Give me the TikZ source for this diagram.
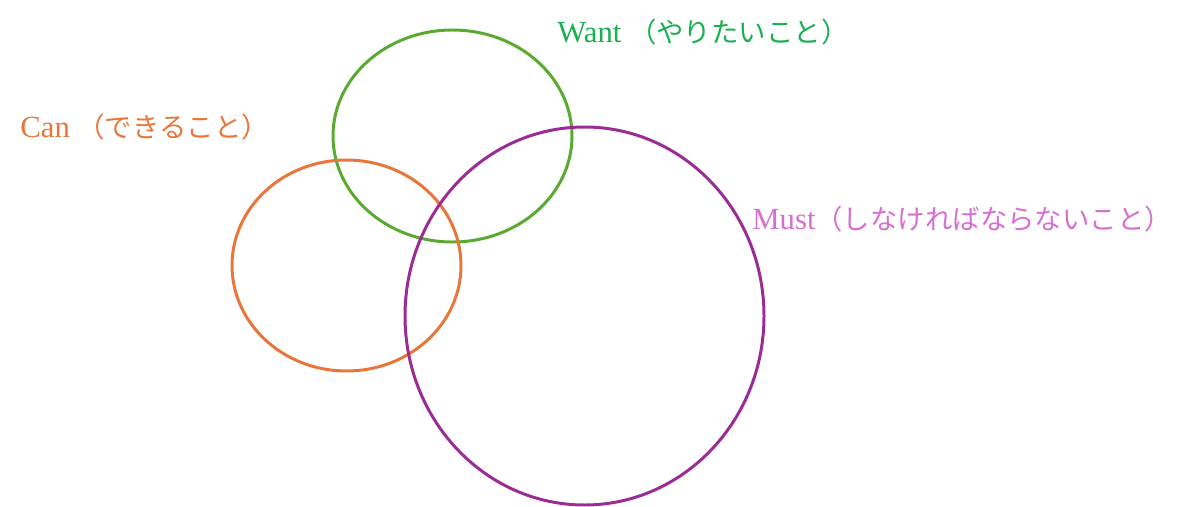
\documentclass[tikz,border=0pt]{standalone}
\usepackage{fontspec}
\setmainfont{Liberation Serif}
\newfontfamily\cjk{Noto Sans CJK JP}
\definecolor{wantline}{HTML}{5AAA32}
\definecolor{wanttext}{HTML}{1AAF50}
\definecolor{canline}{HTML}{E8763A}
\definecolor{mustline}{HTML}{9B2C96}
\definecolor{musttext}{HTML}{D86FD0}
\newcommand{\jp}[1]{{\fontsize{15.6pt}{18pt}\selectfont\cjk #1}}
\begin{document}
\begin{tikzpicture}[x=0.02cm,y=-0.02cm,
  ring/.style={line width=1.7pt},
  lbl/.style={anchor=west,inner sep=0pt,font=\fontsize{17.5pt}{20pt}\selectfont}]
\useasboundingbox (0,0) rectangle (1200,507);
\draw[ring,wantline] (452.5,136) ellipse [x radius=119.5, y radius=106];
\draw[ring,canline] (346.5,265.5) ellipse [x radius=114.5, y radius=105.5];
\draw[ring,mustline] (584.5,316) ellipse [x radius=179.5, y radius=189];
\node[lbl,text=wanttext] (want) at (557,32) {Want \jp{（やりたいこと）}};
\node[lbl,text=canline] (can) at (20,127) {Can \jp{（できること）}};
\node[lbl,text=musttext] (must) at (752,219) {Must\jp{（しなければならないこと）}};
\end{tikzpicture}
\end{document}
